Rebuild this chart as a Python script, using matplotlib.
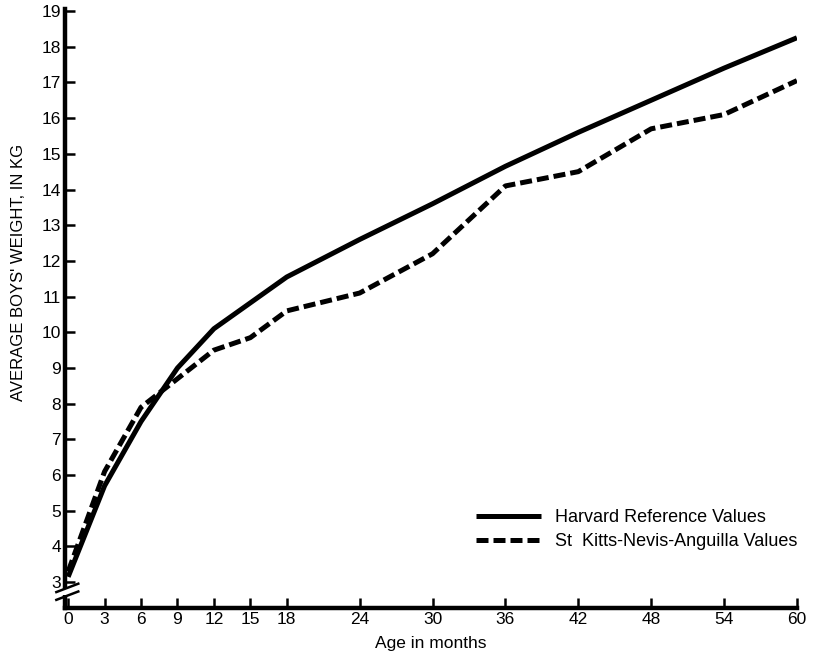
import matplotlib
matplotlib.use("Agg")
import matplotlib.pyplot as plt
from matplotlib.lines import Line2D
from matplotlib.patches import Rectangle

plt.rcParams['font.family'] = ['Liberation Sans', 'DejaVu Sans']

ages = [0, 3, 6, 9, 12, 18, 24, 30, 36, 42, 48, 54, 60]
harvard = [3.15, 5.7, 7.5, 9.0, 10.1, 11.55, 12.6, 13.6, 14.65, 15.6, 16.5, 17.4, 18.25]

ages_skn = [0, 3, 6, 9, 12, 15, 18, 24, 30, 36, 42, 48, 54, 60]
skn = [3.3, 6.1, 7.9, 8.7, 9.5, 9.85, 10.6, 11.1, 12.2, 14.1, 14.5, 15.7, 16.1, 17.05]

xticks = [0, 3, 6, 9, 12, 15, 18, 24, 30, 36, 42, 48, 54, 60]
yticks = list(range(3, 20))

fig = plt.figure(figsize=(8.14, 6.59), dpi=100)
ax = fig.add_axes([0.080, 0.077, 0.899, 0.909])

ax.plot(ages, harvard, color='black', lw=3.6, solid_capstyle='butt',
        label='Harvard Reference Values')
ax.plot(ages_skn, skn, color='black', lw=3.6, linestyle=(0, (2.4, 1.0)),
        dash_capstyle='butt', label='St  Kitts-Nevis-Anguilla Values')

ax.set_xlim(-0.25, 60)
ax.set_ylim(2.27, 19.05)
ax.set_xticks(xticks)
ax.set_yticks(yticks)
ax.tick_params(direction='in', length=7, width=1.8, labelsize=12.5, pad=3)
for s in ['top', 'right']:
    ax.spines[s].set_visible(False)
for s in ['left', 'bottom']:
    ax.spines[s].set_linewidth(3.2)

ax.set_xlabel('Age in months', fontsize=12.5, labelpad=6)
ax.set_ylabel("AVERAGE BOYS' WEIGHT, IN KG", fontsize=12, labelpad=4)
ax.yaxis.set_label_coords(-0.054, 0.56)

# axis break on the y-axis
tr = ax.transAxes
ax.add_patch(Rectangle((-0.01, 0.022), 0.02, 0.010, transform=tr,
                       facecolor='white', edgecolor='none', clip_on=False, zorder=5))
for dy in (0.021, 0.034):
    ax.add_line(Line2D([-0.012, 0.018], [dy - 0.007, dy + 0.007], transform=tr,
                       color='black', lw=1.8, clip_on=False, zorder=6))

leg = ax.legend(loc='lower right', bbox_to_anchor=(1.01, 0.085), frameon=False,
                borderaxespad=0, fontsize=13, handlelength=3.6, handletextpad=0.75,
                labelspacing=0.4)

fig.savefig('out.png', dpi=100)
